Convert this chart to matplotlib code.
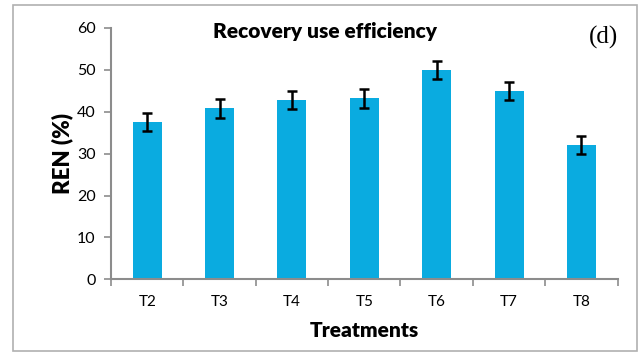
"""Bar chart of nitrogen recovery use efficiency (REN) by treatment."""

import matplotlib

matplotlib.use("Agg")
import matplotlib.pyplot as plt
import numpy as np
from matplotlib.patches import Rectangle

treatments = ["T2", "T3", "T4", "T5", "T6", "T7", "T8"]
ren_mean = [37.5, 40.8, 42.8, 43.2, 49.9, 44.9, 32.0]
ren_err = [2.2, 2.2, 2.2, 2.2, 2.2, 2.2, 2.2]

BAR_COLOR = "#0aabe0"
AXIS_COLOR = "#8c8c8c"
FONT = "Lato"


def main() -> None:
    fig = plt.figure(figsize=(6.41, 3.54), dpi=100)
    fig.patch.set_facecolor("white")

    # thin grey frame around the whole panel
    fig.patches.append(Rectangle((0.021, 0.009), 0.972, 0.978, transform=fig.transFigure,
                                 fill=False, edgecolor="#b0b0b0", linewidth=1.2))

    ax = fig.add_axes([0.1732, 0.211, 0.7903, 0.710])
    x = np.arange(len(treatments))
    ax.bar(x, ren_mean, width=0.4, color=BAR_COLOR, zorder=2)
    ax.errorbar(x, ren_mean, yerr=ren_err, fmt="none", ecolor="black",
                elinewidth=1.8, capsize=3.5, capthick=1.8, zorder=3)

    ax.set_xlim(-0.5, len(treatments) - 0.5)
    ax.set_ylim(0, 60)
    ax.set_yticks(np.arange(0, 61, 10))
    ax.set_xticks(x)
    ax.set_xticklabels(treatments, fontname=FONT, fontsize=11)
    ax.set_xticks(np.arange(-0.5, len(treatments)), minor=True)
    ax.tick_params(axis="x", which="major", length=0, pad=11)
    ax.tick_params(axis="x", which="minor", length=5, width=1.2, color=AXIS_COLOR)
    ax.tick_params(axis="y", length=5, width=1.2, color=AXIS_COLOR, pad=6)
    for lbl in ax.get_yticklabels():
        lbl.set_fontname(FONT)
        lbl.set_fontsize(11.5)

    for side in ("top", "right"):
        ax.spines[side].set_visible(False)
    for side in ("left", "bottom"):
        ax.spines[side].set_color(AXIS_COLOR)
        ax.spines[side].set_linewidth(1.5)

    ax.set_ylabel("REN (%)", fontname=FONT, fontweight="heavy", fontsize=16, labelpad=3)
    ax.set_xlabel("Treatments", fontname=FONT, fontweight="heavy", fontsize=15, labelpad=9)

    fig.text(0.507, 0.91, "Recovery use efficiency", fontname=FONT, fontweight="heavy",
             fontsize=15, ha="center", va="center")
    fig.text(0.941, 0.893, "(d)", family="Liberation Serif", fontsize=18, ha="center", va="center")

    fig.savefig("out.png", dpi=100, facecolor="white")


if __name__ == "__main__":
    main()
